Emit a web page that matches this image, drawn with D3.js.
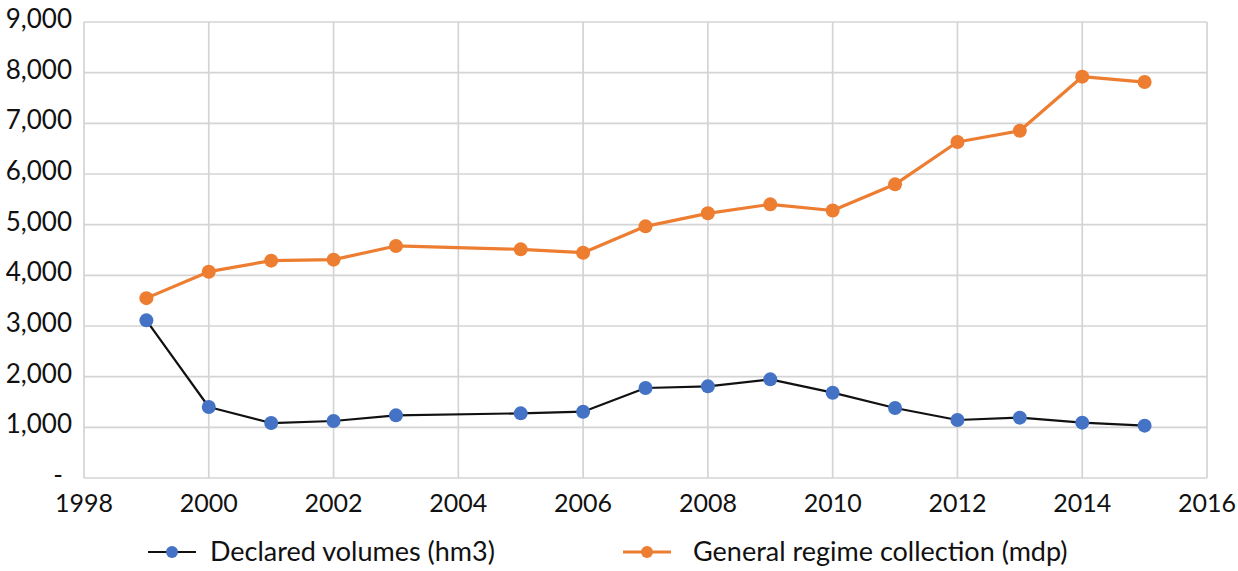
<!DOCTYPE html>
<html>
<head>
<meta charset="utf-8">
<script src="https://cdn.jsdelivr.net/npm/d3@7"></script>
<style>
  html, body { margin: 0; padding: 0; background: #fff; }
  svg { display: block; }
  text { font-family: Lato, "Open Sans", sans-serif; fill: #111; }
</style>
</head>
<body>
<svg id="chart" width="1238" height="571"></svg>
<script>
const years = [1999, 2000, 2001, 2002, 2003, 2005, 2006, 2007, 2008, 2009, 2010, 2011, 2012, 2013, 2014, 2015];
const declaredVolumes = [3112, 1401, 1085, 1125, 1237, 1276, 1309, 1776, 1809, 1947, 1684, 1381, 1145, 1191, 1092, 1033];
const generalRegime = [3550, 4072, 4290, 4310, 4580, 4513, 4447, 4967, 5224, 5401, 5280, 5796, 6631, 6855, 7921, 7815];
const xTicks = [1998, 2000, 2002, 2004, 2006, 2008, 2010, 2012, 2014, 2016];
const yTicks = [0, 1000, 2000, 3000, 4000, 5000, 6000, 7000, 8000, 9000];
const seriesNames = ["Declared volumes (hm3)", "General regime collection (mdp)"];

const svg = d3.select("#chart");
const plotLeft = 84, plotRight = 1207, plotTop = 22, plotBottom = 478;

const x = d3.scaleLinear().domain([1998, 2016]).range([plotLeft, plotRight]);
const y = d3.scaleLinear().domain([0, 9000]).range([plotBottom, plotTop]);

const grid = "#d4d4d4";

svg.append("g").selectAll("line").data(xTicks).join("line")
  .attr("x1", d => x(d)).attr("x2", d => x(d))
  .attr("y1", plotTop).attr("y2", plotBottom)
  .attr("stroke", grid).attr("stroke-width", 1.7);

svg.append("g").selectAll("line").data(yTicks).join("line")
  .attr("x1", plotLeft).attr("x2", plotRight)
  .attr("y1", d => y(d)).attr("y2", d => y(d))
  .attr("stroke", grid).attr("stroke-width", 1.7);

const fmt = d3.format(",");
svg.append("g").selectAll("text").data(yTicks).join("text")
  .attr("x", d => d === 0 ? 63 : 72)
  .attr("y", d => y(d) - 3)
  .attr("dy", "0.35em")
  .attr("text-anchor", "end")
  .attr("font-size", 26)
  .text(d => d === 0 ? "-" : fmt(d));

svg.append("g").selectAll("text").data(xTicks).join("text")
  .attr("x", d => x(d))
  .attr("y", 512)
  .attr("text-anchor", "middle")
  .attr("font-size", 25)
  .text(d => d);

const line = d3.line().x(d => x(d[0])).y(d => y(d[1]));
const orangeData = years.map((yr, i) => [yr, generalRegime[i]]);
const blueData = years.map((yr, i) => [yr, declaredVolumes[i]]);

svg.append("path").datum(orangeData)
  .attr("d", line).attr("fill", "none")
  .attr("stroke", "#ED7D31").attr("stroke-width", 3.2).attr("stroke-linejoin", "round");
svg.append("g").selectAll("circle").data(orangeData).join("circle")
  .attr("cx", d => x(d[0])).attr("cy", d => y(d[1])).attr("r", 7)
  .attr("fill", "#ED7D31");

svg.append("path").datum(blueData)
  .attr("d", line).attr("fill", "none")
  .attr("stroke", "#111").attr("stroke-width", 2.2).attr("stroke-linejoin", "round");
svg.append("g").selectAll("circle").data(blueData).join("circle")
  .attr("cx", d => x(d[0])).attr("cy", d => y(d[1])).attr("r", 7)
  .attr("fill", "#4472C4");

const legend = [
  { name: seriesNames[0], line: "#111", marker: "#4472C4", x0: 148, tx: 210, lw: 2.2 },
  { name: seriesNames[1], line: "#ED7D31", marker: "#ED7D31", x0: 623, tx: 693, lw: 3.2 }
];
const ly = 552;
const lg = svg.append("g").selectAll("g").data(legend).join("g");
lg.append("line")
  .attr("x1", d => d.x0).attr("x2", d => d.x0 + 48)
  .attr("y1", ly).attr("y2", ly)
  .attr("stroke", d => d.line).attr("stroke-width", d => d.lw);
lg.append("circle")
  .attr("cx", d => d.x0 + 24).attr("cy", ly).attr("r", 6)
  .attr("fill", d => d.marker);
lg.append("text")
  .attr("x", d => d.tx).attr("y", ly).attr("dy", "0.35em")
  .attr("font-size", 27)
  .text(d => d.name);
</script>
</body>
</html>
